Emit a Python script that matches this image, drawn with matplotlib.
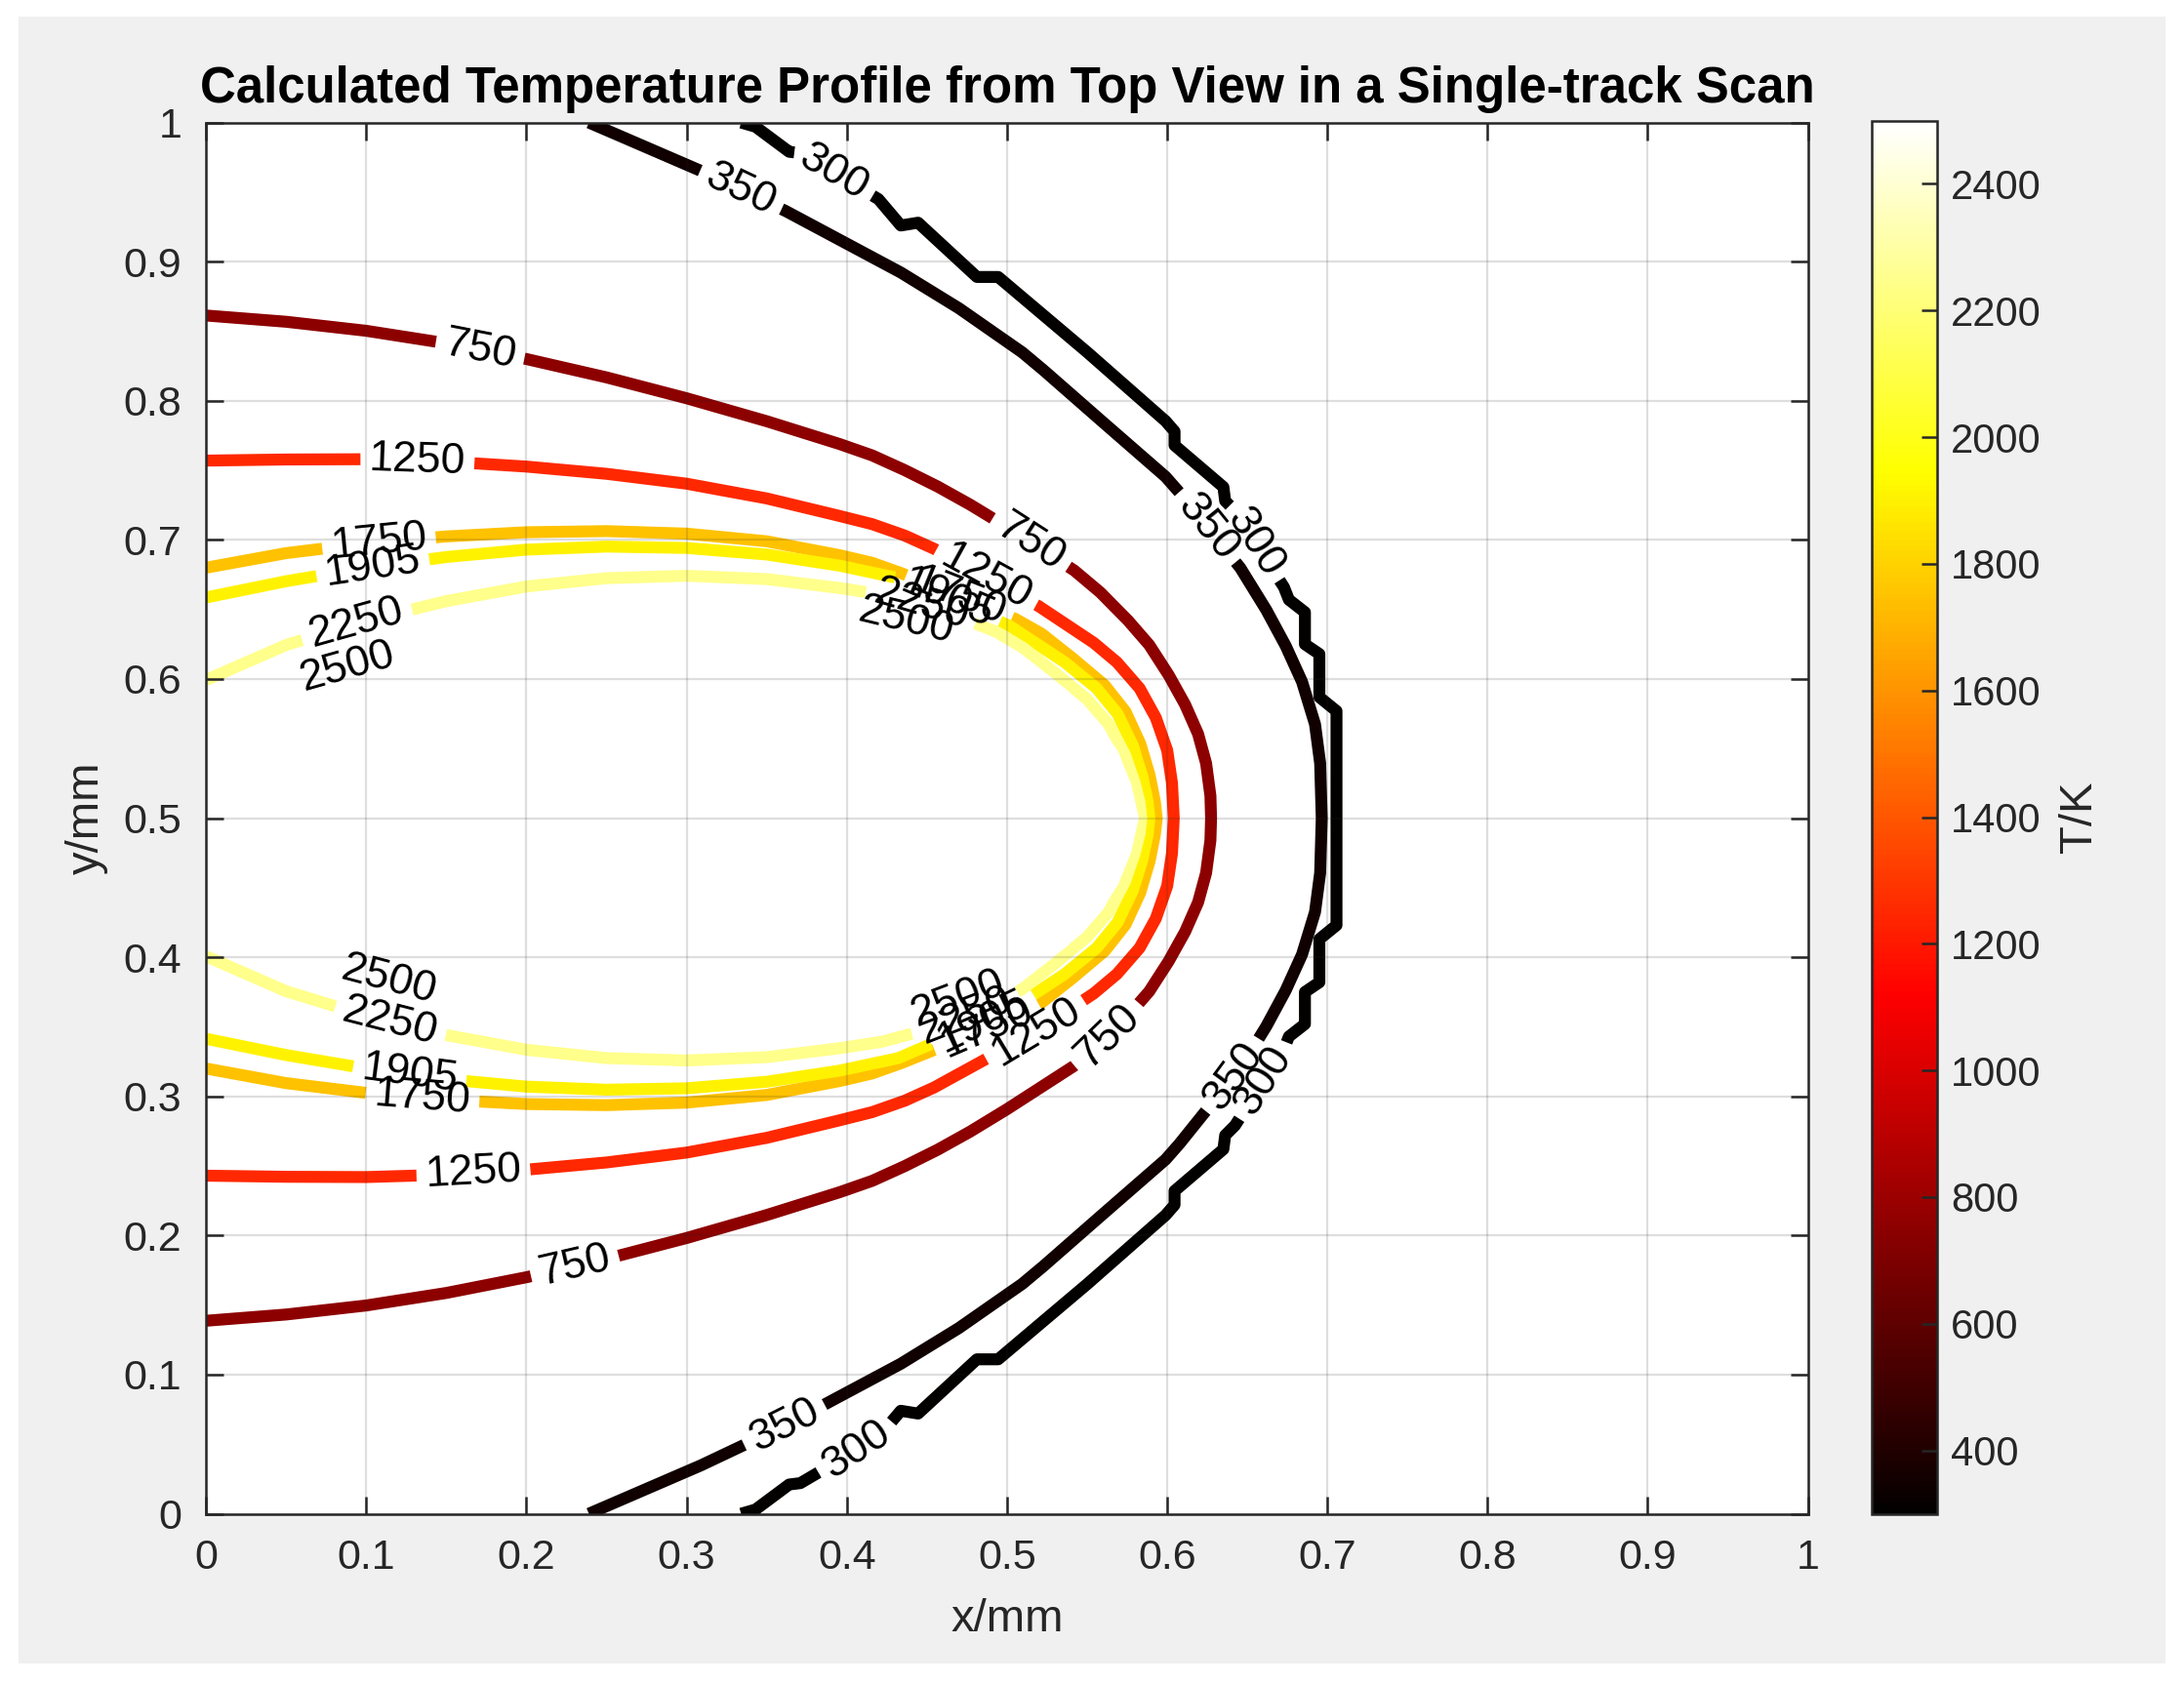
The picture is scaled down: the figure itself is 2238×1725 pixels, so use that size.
import numpy as np
import matplotlib
matplotlib.use('Agg')
import matplotlib.pyplot as plt
from matplotlib.colors import ListedColormap, Normalize
from matplotlib.contour import ContourSet
from matplotlib.patches import Rectangle
import matplotlib.cm as cm

plt.rcParams['font.family'] = ['Liberation Sans', 'DejaVu Sans']

# isotherm levels in K
levels = [300, 350, 750, 1250, 1750, 1905, 2250, 2500]

# upper half (y >= 0.5) of every isotherm in mm.
# the profile is symmetric about the scan track y = 0.5
x300 = [0.334, 0.343, 0.364, 0.371, 0.4197, 0.4337, 0.4445, 0.4812, 0.4945, 0.5502,
        0.599, 0.6046, 0.6046, 0.6351, 0.6362, 0.6423, 0.6729, 0.676, 0.686, 0.686,
        0.695, 0.695, 0.7057, 0.7057]
y300 = [1.0, 0.997, 0.979, 0.978, 0.945, 0.926, 0.928, 0.889, 0.889, 0.8348,
        0.7854, 0.778, 0.768, 0.738, 0.728, 0.721, 0.666, 0.657, 0.648, 0.625,
        0.618, 0.587, 0.577, 0.5]
x350 = [0.239, 0.309, 0.362, 0.4337, 0.47, 0.5095, 0.5228, 0.56, 0.599, 0.6077,
        0.636, 0.6456, 0.6619, 0.674, 0.6842, 0.6923, 0.6955, 0.6965]
y350 = [1.0, 0.9652, 0.9363, 0.8922, 0.8665, 0.8348, 0.822, 0.7845, 0.7454, 0.734,
        0.6935, 0.68, 0.6496, 0.6238, 0.598, 0.5675, 0.5394, 0.5]
x750 = [0.0, 0.05, 0.1, 0.15, 0.2, 0.25, 0.3, 0.35, 0.3955, 0.4159,
        0.4362, 0.4566, 0.4769, 0.5, 0.542, 0.5583, 0.5756, 0.5888, 0.601, 0.6112,
        0.6193, 0.6243, 0.627, 0.6274]
y750 = [0.8613, 0.8568, 0.8503, 0.8413, 0.83, 0.8168, 0.8018, 0.7853, 0.7689, 0.7607,
        0.7501, 0.7384, 0.7254, 0.7092, 0.678, 0.6622, 0.642, 0.6245, 0.6027, 0.5816,
        0.5605, 0.5394, 0.516, 0.5]
x1250 = [0.0, 0.05, 0.1, 0.15, 0.2, 0.25, 0.3, 0.35, 0.3955, 0.4159,
         0.4362, 0.4545, 0.5196, 0.5379, 0.5542, 0.5686, 0.5828, 0.5929, 0.6, 0.603, 0.6041]
y1250 = [0.757, 0.7578, 0.758, 0.7563, 0.7527, 0.7475, 0.7404, 0.7298, 0.7172, 0.7113,
         0.7031, 0.6936, 0.6525, 0.6385, 0.626, 0.6121, 0.5933, 0.5722, 0.5488, 0.5253, 0.5]
x1750 = [0.0, 0.05, 0.1, 0.15, 0.2, 0.25, 0.3, 0.35, 0.3955, 0.4159, 0.4342, 0.5054,
         0.5217, 0.541, 0.561, 0.574, 0.5832, 0.589, 0.5923, 0.5935]
y1750 = [0.680, 0.6905, 0.6975, 0.7025, 0.7055, 0.7063, 0.7045, 0.699, 0.689, 0.6835,
         0.676, 0.6431, 0.6325, 0.6149, 0.5955, 0.5765, 0.5535, 0.531, 0.512, 0.5]
x1905 = [0.0, 0.05, 0.1, 0.15, 0.2, 0.25, 0.3, 0.35, 0.3955, 0.4321, 0.5013,
         0.536, 0.556, 0.569, 0.5785, 0.5845, 0.5878, 0.5889]
y1905 = [0.6586, 0.6703, 0.68, 0.6877, 0.693, 0.6952, 0.6942, 0.6895, 0.6815, 0.6725, 0.6384,
         0.6121, 0.5933, 0.575, 0.5522, 0.53, 0.512, 0.5]
x2250 = [0.0, 0.05, 0.1, 0.15, 0.2, 0.25, 0.3, 0.35, 0.3955, 0.422, 0.46, 0.4932,
         0.51, 0.53, 0.55, 0.5635, 0.5735, 0.5795, 0.5828, 0.5838]
y2250 = [0.5993, 0.6245, 0.642, 0.656, 0.6665, 0.6725, 0.6742, 0.6718, 0.6654, 0.6607, 0.649, 0.634,
         0.6225, 0.6045, 0.5855, 0.5675, 0.546, 0.526, 0.511, 0.5]
x2500 = [0.0, 0.05, 0.089, 0.15, 0.2, 0.25, 0.3, 0.35, 0.4, 0.44, 0.48, 0.51,
         0.535, 0.553, 0.566, 0.574, 0.5785]
y2500 = [0.578, 0.5955, 0.609, 0.6275, 0.640, 0.649, 0.6535, 0.6535, 0.649, 0.641, 0.626, 0.6085,
         0.589, 0.568, 0.546, 0.523, 0.5]

half_x = [x300, x350, x750, x1250, x1750, x1905, x2250, x2500]
half_y = [y300, y350, y750, y1250, y1750, y1905, y2250, y2500]

# where MATLAB put the inline labels
label_pos = {
    300: [(0.390, 0.960), (0.652, 0.696), (0.659, 0.312), (0.406, 0.047)],
    350: [(0.334, 0.952), (0.626, 0.710), (0.637, 0.319), (0.361, 0.064)],
    750: [(0.171, 0.836), (0.513, 0.695), (0.560, 0.347), (0.230, 0.179)],
    1250: [(0.132, 0.759), (0.487, 0.673), (0.517, 0.349), (0.167, 0.243)],
    1750: [(0.108, 0.697), (0.470, 0.659), (0.489, 0.345), (0.135, 0.298)],
    1905: [(0.104, 0.681), (0.462, 0.655), (0.487, 0.349), (0.127, 0.315)],
    2250: [(0.094, 0.640), (0.446, 0.651), (0.475, 0.356), (0.114, 0.349)],
    2500: [(0.089, 0.607), (0.438, 0.646), (0.470, 0.368), (0.112, 0.373)],
}

ticks = [0, 0.1, 0.2, 0.3, 0.4, 0.5, 0.6, 0.7, 0.8, 0.9, 1]
tick_labels = ['0', '0.1', '0.2', '0.3', '0.4', '0.5', '0.6', '0.7', '0.8', '0.9', '1']
cbar_ticks = [400, 600, 800, 1000, 1200, 1400, 1600, 1800, 2000, 2200, 2400]

# MATLAB "hot" colormap
n = 256
n1 = 3 * n // 8
r = np.concatenate([np.arange(1, n1 + 1) / n1, np.ones(n - n1)])
g = np.concatenate([np.zeros(n1), np.arange(1, n1 + 1) / n1, np.ones(n - 2 * n1)])
b = np.concatenate([np.zeros(2 * n1), np.arange(1, n - 2 * n1 + 1) / (n - 2 * n1)])
hot = ListedColormap(np.column_stack([r, g, b]))
norm = Normalize(vmin=300, vmax=2500)

W, H = 2238, 1725
fig = plt.figure(figsize=(W / 200, H / 200), dpi=200, facecolor='white')
fig.add_artist(Rectangle((19 / W, 20 / H), 2200 / W, 1688 / H, transform=fig.transFigure,
                         facecolor='#f0f0f0', edgecolor='none', zorder=0))

ax = fig.add_axes([211.2 / W, 173.5 / H, 1641.4 / W, 1425.9 / H])
cax = fig.add_axes([1918 / W, 173.5 / H, 67 / W, 1428 / H])

ax.set_xlim(0, 1)
ax.set_ylim(0, 1)

# one contour set per isotherm, so each gets its own inline labels
for lev, xs, ys in zip(levels, half_x, half_y):
    xs = np.asarray(xs)
    ys = np.asarray(ys)
    xx = np.concatenate([xs, xs[::-1][1:]])
    yy = np.concatenate([ys, 1 - ys[::-1][1:]])
    cs = ContourSet(ax, np.array([lev], dtype=float), [[np.column_stack([xx, yy])]],
                    cmap=hot, norm=norm, linewidths=4.4)
    cs.set_joinstyle('round')
    ax.set_xlim(0, 1)
    ax.set_ylim(0, 1)
    ax.clabel(cs, manual=label_pos[lev], inline=True, inline_spacing=9,
              fmt='%d', fontsize=16, colors='black')

dark = '#262626'
ax.set_xticks(ticks)
ax.set_xticklabels(tick_labels)
ax.set_yticks(ticks)
ax.set_yticklabels(tick_labels)
ax.tick_params(direction='in', length=6.5, width=0.9, top=True, right=True,
               labelsize=15.5, colors=dark, pad=9)
ax.grid(True, color=dark, alpha=0.15, linewidth=0.8)
ax.set_axisbelow(False)
for sp in ax.spines.values():
    sp.set_color(dark)
    sp.set_linewidth(0.9)

ax.set_xlabel('x/mm', fontsize=17, color=dark)
ax.xaxis.set_label_coords(0.5, -0.0761)
ax.xaxis.label.set_va('center')
ax.set_ylabel('y/mm', fontsize=17, color=dark)
ax.yaxis.set_label_coords(-0.0748, 0.5)
ax.yaxis.label.set_va('center')
ax.set_title('Calculated Temperature Profile from Top View in a Single-track Scan',
             fontsize=18.35, fontweight='bold', y=1.024, va='center', pad=0)

sm = cm.ScalarMappable(norm=norm, cmap=hot)
cb = fig.colorbar(sm, cax=cax, ticks=cbar_ticks)
cb.outline.set_edgecolor(dark)
cb.outline.set_linewidth(0.9)
cax.tick_params(direction='in', length=5.8, width=0.9, labelsize=15, colors=dark, pad=5)
cax.set_ylabel('T/K', fontsize=17, color=dark)
cax.yaxis.set_label_coords(3.18, 0.5)
cax.yaxis.label.set_va('center')

fig.savefig('out.png', dpi=200)
